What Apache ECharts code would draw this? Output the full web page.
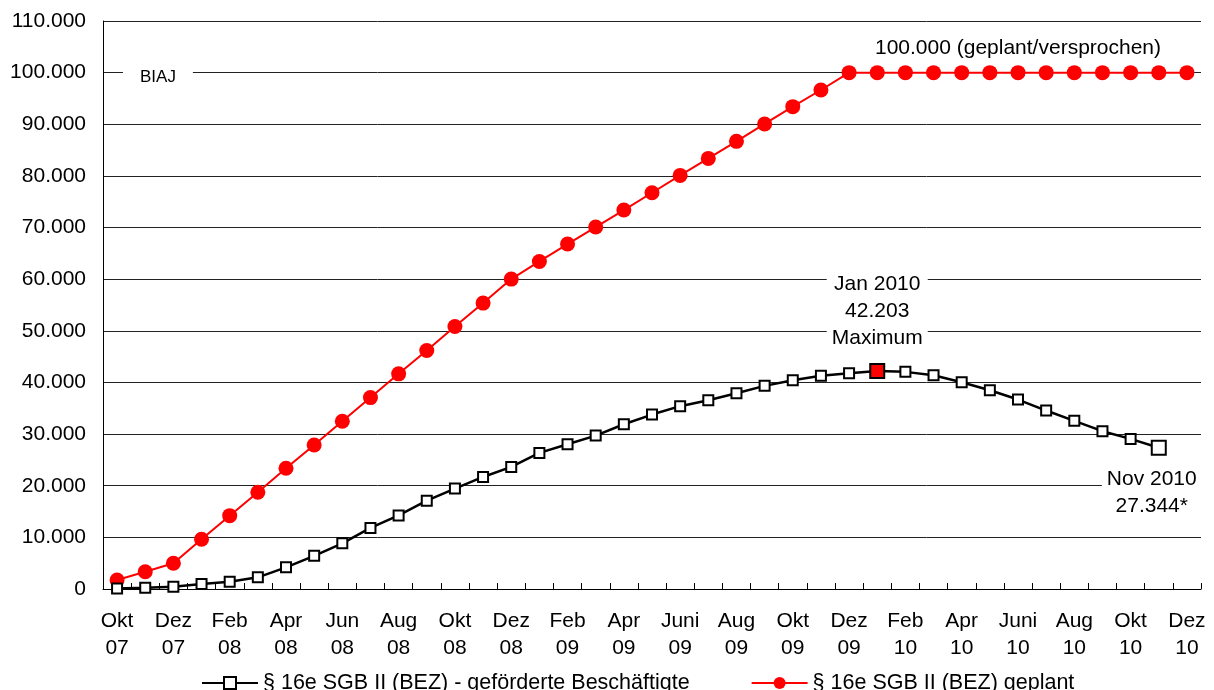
<!DOCTYPE html>
<html>
<head>
<meta charset="utf-8">
<script src="https://cdn.jsdelivr.net/npm/echarts@6/dist/echarts.min.js"></script>
<style>
html,body{margin:0;padding:0;background:#fff;}
#chart{width:1214px;height:690px;}
</style>
</head>
<body>
<div id="chart"></div>
<script>
const categories = ['Okt\n07','Nov\n07','Dez\n07','Jan\n08','Feb\n08','Mär\n08','Apr\n08','Mai\n08','Jun\n08','Jul\n08','Aug\n08','Sep\n08','Okt\n08','Nov\n08','Dez\n08','Jan\n09','Feb\n09','Mär\n09','Apr\n09','Mai\n09','Juni\n09','Jul\n09','Aug\n09','Sep\n09','Okt\n09','Nov\n09','Dez\n09','Jan\n10','Feb\n10','Mär\n10','Apr\n10','Mai\n10','Juni\n10','Jul\n10','Aug\n10','Sep\n10','Okt\n10','Nov\n10','Dez\n10'];

const gefoerdert = [100,250,450,970,1420,2260,4200,6430,8850,11820,14240,17110,19440,21700,23640,26360,28040,29710,31910,33780,35410,36570,37920,39340,40440,41280,41800,42203,42050,41410,40050,38500,36690,34560,32560,30560,29070,27344,null];

const geplant = [1740,3350,4980,9630,14200,18740,23390,27900,32500,37070,41670,46190,50840,55370,60020,63430,66800,70100,73390,76740,80100,83390,86690,90060,93410,96640,100000,100000,100000,100000,100000,100000,100000,100000,100000,100000,100000,100000,100000];

const seriesNames = ['§ 16e SGB II (BEZ) - geförderte Beschäftigte', '§ 16e SGB II (BEZ) geplant'];
const maxText = 'Jan 2010\n42.203\nMaximum';
const lastText = 'Nov 2010\n27.344*';
const planText = '100.000 (geplant/versprochen)';
const planLabelCategory = 'Juni\n10';
const yTicks = {min: 0, max: 110000, interval: 10000};

const FONT = "'Liberation Sans', Arial, sans-serif";

function fmt(v){ return String(v).replace(/\B(?=(\d{3})+(?!\d))/g, '.'); }

const vals = gefoerdert.filter(v => v !== null);
const maxIdx = gefoerdert.indexOf(Math.max(...vals));
let lastIdx = 0; gefoerdert.forEach((v,i)=>{ if(v!==null) lastIdx=i; });

const blackData = gefoerdert.map((v,i) => {
  if (i === maxIdx) {
    return {value: v, symbolSize: 14, itemStyle: {color: '#ff0000', borderColor: '#000', borderWidth: 2},
      label: {show: true, position: 'top', distance: 11, formatter: maxText, fontSize: 21, lineHeight: 27,
        fontFamily: FONT, color: '#000', backgroundColor: '#fff', padding: [0, 5], align: 'center'}};
  }
  if (i === lastIdx) {
    return {value: v, symbolSize: 14,
      label: {show: true, position: 'bottom', distance: 10, formatter: lastText, fontSize: 21, lineHeight: 27,
        fontFamily: FONT, color: '#000', backgroundColor: '#fff', padding: [0, 19, 0, 5], align: 'center'}};
  }
  return v;
});

const planIdx = categories.indexOf(planLabelCategory);
const redData = geplant.map((v,i) => {
  if (i === planIdx) {
    return {value: v, label: {show: true, position: 'top', distance: 3, formatter: planText, fontSize: 21,
      lineHeight: 27, fontFamily: FONT, color: '#000'}};
  }
  return v;
});

const chart = echarts.init(document.getElementById('chart'), null, {renderer: 'canvas'});
chart.setOption({
  animation: false,
  backgroundColor: '#fff',
  textStyle: {fontFamily: FONT},
  title: {
    text: 'BIAJ', left: 123, top: 68,
    backgroundColor: '#fff', padding: [1, 17],
    textStyle: {fontSize: 17, fontWeight: 'normal', color: '#000', fontFamily: FONT}
  },
  grid: {left: 103, right: 13, top: 21, bottom: 101, containLabel: false},
  legend: {
    left: 196, top: 667, itemWidth: 56, itemHeight: 15, itemGap: 61,
    textStyle: {fontSize: 21.5, color: '#000', fontFamily: FONT},
    data: seriesNames
  },
  xAxis: {
    type: 'category', data: categories, boundaryGap: true,
    axisLine: {lineStyle: {color: '#000', width: 1}},
    axisTick: {show: true, interval: 0, inside: true, length: 6, lineStyle: {color: '#000'}},
    axisLabel: {interval: 1, fontSize: 21, lineHeight: 27, color: '#000', margin: 19, fontFamily: FONT},
    splitLine: {show: false}
  },
  yAxis: {
    type: 'value', min: yTicks.min, max: yTicks.max, interval: yTicks.interval,
    axisLine: {show: true, lineStyle: {color: '#000', width: 1}},
    axisTick: {show: false},
    axisLabel: {fontSize: 21, color: '#000', margin: 17, fontFamily: FONT, formatter: v => fmt(v)},
    splitLine: {show: true, lineStyle: {color: '#222', width: 1}}
  },
  series: [
    {
      name: seriesNames[1], type: 'line', data: redData, z: 2,
      symbol: 'circle', symbolSize: 15,
      itemStyle: {color: '#ff0000'},
      lineStyle: {color: '#ff0000', width: 2},
      labelLayout: {hideOverlap: false}
    },
    {
      name: seriesNames[0], type: 'line', data: blackData, z: 3,
      symbol: 'rect', symbolSize: 10,
      itemStyle: {color: '#fff', borderColor: '#000', borderWidth: 2},
      lineStyle: {color: '#000', width: 2.5},
      labelLayout: {hideOverlap: false}
    }
  ]
});
</script>
</body>
</html>
